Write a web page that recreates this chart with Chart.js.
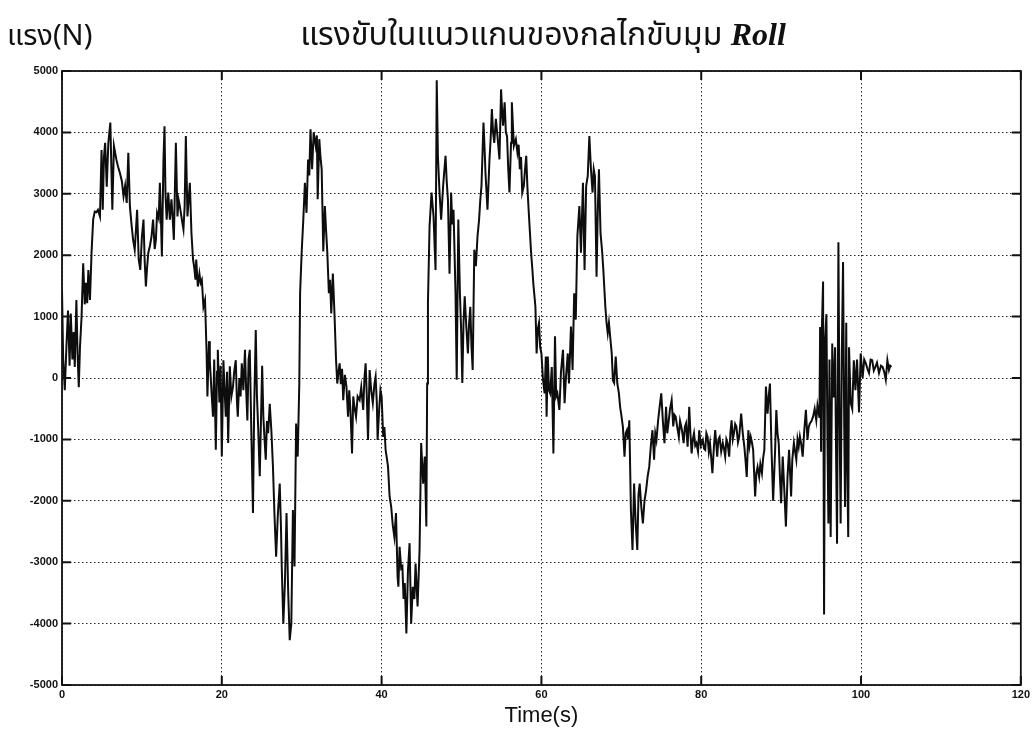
<!DOCTYPE html>
<html>
<head>
<meta charset="utf-8">
<script src="https://cdn.jsdelivr.net/npm/chart.js@4"></script>
<style>
  body { margin: 0; background: #fff; }
  #wrap { position: relative; width: 1033px; height: 740px; }
  .thai { position: absolute; color: #111; font-family: "Noto Sans Thai", "Loma", "Garuda", "Noto Sans", sans-serif; white-space: nowrap; }
  #ylab { left: 7px; top: 14px; font-size: 29px; }
  #ttl { left: 0; width: 1086px; top: 11px; font-size: 32px; text-align: center; }
  #ttl i { font-family: "Liberation Serif", "DejaVu Serif", serif; font-weight: bold; }
</style>
</head>
<body>
<div id="wrap">
  <canvas id="chart" width="1033" height="740"></canvas>
  <div id="ylab" class="thai">แรง(N)</div>
  <div id="ttl" class="thai">แรงขับในแนวแกนของกลไกขับมุม <i>Roll</i></div>
</div>
<script>
// [time (s), force (N)], one list per stretch of the trace
const firstHump = [
  [0, 1430], [0.15, 300], [0.35, -200], [0.55, 500], [0.75, 1100], [0.95, 200], [1.1, 1050], [1.3, 300],
  [1.45, 750], [1.6, 180], [1.8, 1270], [1.95, 400], [2.1, -150], [2.25, 500], [2.45, 1000], [2.65, 1870],
  [2.85, 1200], [3.0, 1550], [3.15, 1220], [3.3, 1760], [3.5, 1270], [3.7, 2050], [3.9, 2580], [4.1, 2710],
  [4.3, 2700], [4.5, 2740], [4.75, 2630], [4.95, 3715], [5.1, 2740], [5.25, 3600], [5.4, 3830], [5.6, 3115],
  [5.8, 3830], [6.05, 4160], [6.3, 2740], [6.5, 3780], [6.8, 3560], [7.0, 3450], [7.25, 3340], [7.5, 3200],
  [7.7, 2960], [7.9, 3130], [8.1, 2850], [8.3, 3670], [8.5, 2790], [8.7, 2500], [8.9, 2250], [9.1, 2090],
  [9.25, 2400], [9.4, 2740], [9.6, 1930], [9.8, 1760], [10.0, 2300], [10.2, 2580], [10.35, 1900], [10.5, 1490],
  [10.65, 1800], [10.8, 2040], [11.0, 2150], [11.2, 2300], [11.4, 2580], [11.6, 2100], [11.75, 2250], [11.9, 2690],
  [12.1, 2600], [12.25, 3180], [12.4, 2500], [12.5, 1980], [12.7, 3560], [12.83, 4100], [12.95, 3000], [13.1, 2580],
  [13.3, 3020], [13.5, 2580], [13.7, 2910], [13.85, 2600], [14.0, 2250], [14.25, 3830], [14.45, 2630], [14.6, 2900],
  [14.75, 2800], [15.0, 2580], [15.2, 2420], [15.35, 2800], [15.5, 3940], [15.7, 2630], [15.85, 2900], [16.0, 3180],
  [16.2, 2360], [16.4, 1930], [16.55, 1800], [16.7, 1600], [16.8, 1930], [17.0, 1490], [17.2, 1700], [17.35, 1550],
  [17.5, 1600], [17.7, 1160], [17.9, 1270]
];
const firstTrough = [
  [18.1, 400], [18.2, -300], [18.4, 600], [18.5, 290], [18.7, -200], [18.9, -630], [19.05, 300], [19.25, -1170],
  [19.4, 100], [19.5, 460], [19.7, -400], [19.85, 200], [20.0, -1280], [20.2, 290], [20.35, -200], [20.5, -630],
  [20.65, 100], [20.8, -1060], [21.0, 190], [21.2, -300], [21.4, -140], [21.55, 100], [21.75, 290], [21.9, -400],
  [22.0, -630], [22.2, 0], [22.35, -300], [22.5, 240], [22.7, -200], [22.9, 460], [23.05, -200], [23.2, -690],
  [23.35, 300], [23.5, 460], [23.7, -900], [23.9, -2200], [24.05, -500], [24.25, 780], [24.4, -300], [24.55, -800],
  [24.75, -1600], [24.9, -700], [25.05, 200], [25.2, -630], [25.35, -1000], [25.5, -1330], [25.65, -700], [25.8, -900],
  [26.0, -420], [26.2, -850], [26.4, -1440], [26.6, -2260], [26.8, -2910], [27.0, -2260], [27.25, -1720], [27.4, -2400],
  [27.5, -3070], [27.7, -4000], [27.9, -3340], [28.1, -2200], [28.3, -3450], [28.5, -4270], [28.7, -4000], [28.9, -2150],
  [29.1, -3070], [29.3, -740], [29.5, -1280], [29.7, -90]
];
const secondCycle = [
  [29.8, 1380], [30.0, 2060], [30.2, 2580], [30.4, 3180], [30.6, 2690], [30.8, 3560], [30.95, 3300], [31.1, 4050],
  [31.3, 3400], [31.5, 4000], [31.75, 3780], [31.9, 3950], [32.0, 2910], [32.2, 3890], [32.35, 3600], [32.5, 3400],
  [32.7, 2060], [32.9, 2800], [33.05, 2400], [33.2, 2060], [33.4, 1380], [33.55, 1600], [33.7, 1050], [33.9, 1700],
  [34.1, 1050], [34.3, 290], [34.45, -90], [34.6, 100], [34.75, 240], [34.9, -100], [35.05, 150], [35.2, -360],
  [35.4, 50], [35.6, -140], [35.8, -630], [35.95, -200], [36.1, -520], [36.3, -1230], [36.45, -300], [36.6, -470],
  [36.8, -630], [37.0, -300], [37.25, -360], [37.45, -150], [37.7, -520], [37.85, 0], [38.0, 240], [38.15, -300],
  [38.3, -1010], [38.5, 130], [38.7, -200], [38.9, -410], [39.1, -100], [39.25, 20], [39.4, -400], [39.5, -1010],
  [39.7, -500], [39.85, -200], [40.0, -300], [40.2, -960], [40.35, -800], [40.5, -1170], [40.65, -1300], [40.8, -1440],
  [41.0, -1930], [41.2, -2100], [41.4, -2400], [41.6, -2590], [41.8, -2200], [42.0, -3240], [42.1, -3400], [42.25, -2750],
  [42.45, -3100], [42.6, -3070], [42.75, -3600], [42.9, -3340], [43.1, -4160], [43.3, -3130], [43.5, -2690], [43.7, -4000],
  [43.9, -3400], [44.1, -3600], [44.25, -3020], [44.5, -3720], [44.75, -2800], [44.95, -1060], [45.2, -1720], [45.4, -1280],
  [45.6, -2420], [45.7, -90]
];
const doublePeak = [
  [45.8, 1220], [46.0, 2470], [46.25, 3020], [46.5, 2630], [46.75, 1760], [46.9, 4850], [47.05, 3600], [47.25, 3020],
  [47.45, 2580], [47.7, 3130], [48.0, 3620], [48.15, 3200], [48.3, 2910], [48.5, 1700], [48.7, 3020], [48.85, 2500],
  [49.0, 2740], [49.25, 1380], [49.4, -30], [49.6, 2580], [49.8, 1380], [49.95, 800], [50.1, -80], [50.25, 900],
  [50.4, 1330], [50.6, 840], [50.8, 400], [50.95, 900], [51.1, 1160], [51.25, 500], [51.4, 130], [51.6, 2090],
  [51.8, 1820], [52.0, 2300], [52.2, 2580], [52.35, 2900], [52.5, 3130], [52.75, 4160], [52.9, 3700], [53.0, 3340],
  [53.25, 2740], [53.5, 3560], [53.65, 3900], [53.8, 4380], [53.95, 4000], [54.1, 3830], [54.3, 4220], [54.5, 3940],
  [54.75, 3560], [54.95, 4700], [55.1, 4300], [55.2, 4110], [55.4, 4490], [55.55, 4000], [55.7, 3940], [55.85, 3400],
  [56.0, 3020], [56.2, 3830], [56.3, 4490], [56.55, 3780], [56.8, 3890], [57.0, 3670], [57.15, 3800], [57.3, 3400],
  [57.45, 3600], [57.6, 3020], [57.8, 3130], [57.95, 3400], [58.1, 3620], [58.25, 3100], [58.4, 2740], [58.55, 2400],
  [58.7, 2060], [58.85, 1800], [59.0, 1520], [59.25, 1160], [59.4, 400], [59.55, 800], [59.7, 900], [59.85, 500],
  [60.0, 400], [60.2, -30], [60.4, -250], [60.55, 350], [60.65, -630], [60.8, 350], [60.95, -200], [61.1, -250],
  [61.3, 180], [61.5, -1230], [61.7, 680], [61.85, -300], [62.0, -250], [62.25, -520], [62.45, 100], [62.7, 460],
  [62.9, -410], [63.05, -30], [63.3, 400], [63.45, -90], [63.7, 840], [63.9, 130], [64.1, 1380], [64.3, 950],
  [64.5, 2310], [64.75, 2800], [64.95, 2040], [65.2, 3180], [65.4, 1760], [65.6, 3130], [65.8, 3290], [66.0, 3940],
  [66.2, 3400], [66.4, 3020], [66.55, 3400], [66.7, 3290], [66.9, 1650], [67.05, 2700], [67.2, 3400], [67.4, 2360],
  [67.6, 2060], [67.75, 1760], [67.9, 1400], [68.0, 1160], [68.15, 900], [68.3, 730], [68.45, 900], [68.6, 680],
  [68.8, 400], [68.95, -40], [69.1, -80], [69.3, 350], [69.5, -90], [69.7, -250], [69.85, -470], [70.0, -600],
  [70.2, -800], [70.4, -1280], [70.55, -900], [70.7, -850], [70.85, -1000], [71.0, -690], [71.2, -2150], [71.4, -2800],
  [71.6, -1720], [71.8, -2370], [72.0, -2800], [72.15, -1900]
];
const settling = [
  [72.3, -1720], [72.5, -2100], [72.7, -2370], [72.9, -2000], [73.1, -1830], [73.3, -1600], [73.5, -1440], [73.7, -1100],
  [73.9, -850], [74.1, -1330], [74.25, -900], [74.4, -1010], [74.6, -700], [74.75, -520], [75.0, -250], [75.2, -700],
  [75.4, -1060], [75.6, -470], [75.75, -900], [75.9, -740], [76.1, -500], [76.3, -360], [76.5, -790], [76.65, -600],
  [76.8, -630], [77.0, -800], [77.2, -960], [77.35, -700], [77.5, -790], [77.65, -900], [77.8, -1060], [77.95, -800],
  [78.1, -740], [78.3, -1120], [78.5, -470], [78.65, -900], [78.8, -1230], [78.95, -1000], [79.1, -900], [79.25, -1100],
  [79.4, -1060], [79.6, -1200], [79.75, -850], [79.95, -1100], [80.2, -1010], [80.35, -1150], [80.5, -1170], [80.65, -900],
  [80.8, -960], [80.95, -1200], [81.1, -1060], [81.25, -1300], [81.4, -1550], [81.6, -1100], [81.75, -850], [81.9, -1100],
  [82.0, -1280], [82.15, -1000], [82.3, -960], [82.5, -1200], [82.7, -1060], [82.85, -1150], [83.0, -1280], [83.15, -1000],
  [83.3, -1060], [83.5, -1280], [83.65, -900], [83.8, -690], [83.95, -1000], [84.1, -900], [84.25, -750], [84.4, -790],
  [84.6, -1050], [84.75, -960], [85.0, -580], [85.2, -900], [85.4, -1120], [85.55, -1350], [85.7, -1610], [85.9, -850],
  [86.05, -1100], [86.2, -960], [86.35, -1050], [86.5, -1170], [86.75, -1930], [86.9, -1550], [87.05, -1450], [87.25, -1610],
  [87.4, -1400], [87.6, -1550], [87.75, -1300], [87.9, -1170], [88.1, -140], [88.3, -580], [88.45, -300], [88.6, -90],
  [88.8, -1170], [89.0, -2000], [89.25, -1170], [89.4, -520], [89.55, -900], [89.7, -1060], [89.85, -1600], [90.0, -2040],
  [90.2, -1280], [90.4, -1830], [90.6, -2420], [90.8, -1610], [91.0, -1170], [91.25, -1930], [91.4, -1330], [91.6, -1060],
  [91.75, -1200], [91.9, -1330], [92.05, -1000], [92.2, -1120], [92.35, -950], [92.5, -1060], [92.7, -1280], [92.9, -850],
  [93.1, -520], [93.3, -1010], [93.45, -800], [93.6, -740], [93.8, -700], [94.0, -630], [94.2, -500], [94.4, -690],
  [94.55, -450], [94.8, -650]
];
const finalBurst = [
  [94.88, 830], [95.0, -1200], [95.12, 900], [95.25, 1570], [95.375, -3850], [95.5, 600], [95.67, 1040], [95.8, -1000],
  [95.92, -2370], [96.05, 300], [96.2, -2590], [96.4, 560], [96.5, -300], [96.6, -130], [96.75, 500], [96.9, -1500],
  [97.0, -2700], [97.17, 2210], [97.3, -500], [97.45, -2370], [97.6, 400], [97.75, 1890], [97.9, -800], [98.0, -2100],
  [98.15, 900], [98.25, -1200], [98.4, -2590], [98.5, 500], [98.7, -400], [98.9, -500], [99.1, 290], [99.3, -200],
  [99.5, 300], [99.75, -560], [99.96, 400], [100.2, 0], [100.4, 300], [100.6, 240], [100.8, 150], [101.0, 80],
  [101.2, 300], [101.4, 290], [101.6, 120], [101.8, 180], [102.0, 250], [102.25, 80], [102.5, 200], [102.7, 180],
  [102.9, 100], [103.1, -30], [103.3, 290], [103.5, 130], [103.65, 200], [103.8, 180]
];

const xTicks = [0, 20, 40, 60, 80, 100, 120];
const yTicks = [-5000, -4000, -3000, -2000, -1000, 0, 1000, 2000, 3000, 4000, 5000];

const trace = [...firstHump, ...firstTrough, ...secondCycle, ...doublePeak, ...settling, ...finalBurst]
  .map(p => ({ x: p[0], y: p[1] }));

// MATLAB style box with inward tick marks on all four sides
const boxTicks = {
  id: 'boxTicks',
  afterDatasetsDraw(chart) {
    const { ctx, chartArea: a, scales } = chart;
    ctx.save();
    ctx.strokeStyle = '#111';
    ctx.lineWidth = 2;
    ctx.beginPath();
    xTicks.forEach(v => {
      const px = scales.x.getPixelForValue(v);
      ctx.moveTo(px, a.bottom); ctx.lineTo(px, a.bottom - 9);
      ctx.moveTo(px, a.top); ctx.lineTo(px, a.top + 9);
    });
    yTicks.forEach(v => {
      const py = scales.y.getPixelForValue(v);
      ctx.moveTo(a.left, py); ctx.lineTo(a.left + 9, py);
      ctx.moveTo(a.right, py); ctx.lineTo(a.right - 9, py);
    });
    ctx.stroke();
    ctx.lineWidth = 1.8;
    ctx.strokeRect(a.left, a.top, a.right - a.left, a.bottom - a.top);
    ctx.restore();
  }
};

const tickFont = { family: '"Liberation Sans Narrow", "Liberation Sans", Arial, sans-serif', size: 11, weight: 'bold' };
const plainNumber = v => String(v);

new Chart(document.getElementById('chart'), {
  type: 'line',
  data: {
    datasets: [{
      data: trace,
      borderColor: '#0d0d0d',
      borderWidth: 2,
      pointRadius: 0,
      tension: 0,
      fill: false
    }]
  },
  options: {
    responsive: false,
    animation: false,
    layout: { padding: { left: 0, top: 71, right: 11, bottom: 0 } },
    plugins: { legend: { display: false }, tooltip: { enabled: false } },
    scales: {
      x: {
        type: 'linear',
        min: 0,
        max: 120,
        afterFit: s => { s.height = 55; },
        afterBuildTicks: s => { s.ticks = xTicks.map(v => ({ value: v })); },
        ticks: { color: '#111', font: tickFont, padding: 3, maxRotation: 0, autoSkip: false, callback: plainNumber },
        grid: { color: '#222', lineWidth: 1, drawTicks: false },
        border: { display: false, dash: [1.5, 2.5] },
        title: {
          display: true,
          text: 'Time(s)',
          color: '#111',
          font: { family: '"Liberation Sans", Arial, sans-serif', size: 22 },
          padding: { top: 0, bottom: 11 }
        }
      },
      y: {
        min: -5000,
        max: 5000,
        afterFit: s => { s.width = 62; },
        afterBuildTicks: s => { s.ticks = yTicks.map(v => ({ value: v })); },
        ticks: { color: '#111', font: tickFont, padding: 4, autoSkip: false, callback: plainNumber },
        grid: { color: '#222', lineWidth: 1, drawTicks: false },
        border: { display: false, dash: [1.5, 2.5] }
      }
    }
  },
  plugins: [boxTicks]
});
</script>
</body>
</html>
